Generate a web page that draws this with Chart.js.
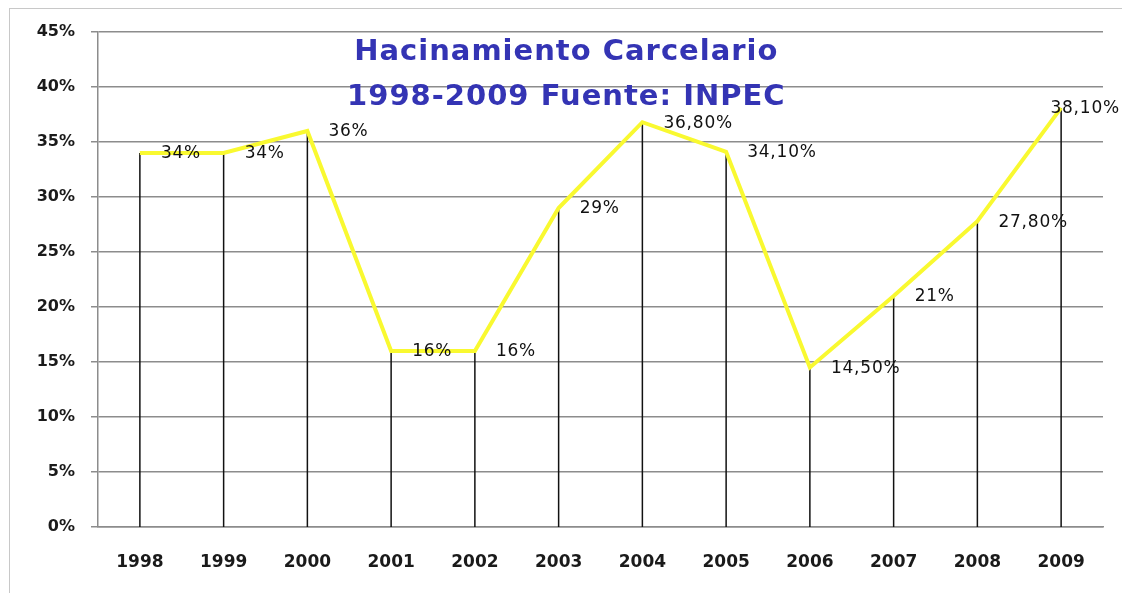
<!DOCTYPE html>
<html>
<head>
<meta charset="utf-8">
<script src="https://cdn.jsdelivr.net/npm/chart.js@4/dist/chart.umd.min.js"></script>
<style>
  html, body { margin: 0; padding: 0; background: #fff; }
  #frame { position: absolute; left: 9px; top: 8px; width: 1130px; height: 600px; border: 1px solid #c8c8c8; }
  #wrap { position: absolute; left: 0; top: 0; width: 1122px; height: 593px; }
</style>
</head>
<body>
<div id="frame"></div>
<div id="wrap"><canvas id="myChart" width="1122" height="593"></canvas></div>
<script>
var years = ['1998', '1999', '2000', '2001', '2002', '2003', '2004', '2005', '2006', '2007', '2008', '2009'];
var hacinamiento = [34, 34, 36, 16, 16, 29, 36.8, 34.1, 14.5, 21, 27.8, 38.1];
var etiquetas = ['34%', '34%', '36%', '16%', '16%', '29%', '36,80%', '34,10%', '14,50%', '21%', '27,80%', '38,10%'];
var titulo = ['Hacinamiento Carcelario', '1998-2009 Fuente: INPEC'];

// drop lines from each point down to the axis + value labels
var dropLines = {
    id: 'dropLines',
    beforeDatasetsDraw: function(chart) {
        var ctx = chart.ctx;
        var meta = chart.getDatasetMeta(0);
        var bottom = chart.scales.y.getPixelForValue(0);
        ctx.save();
        ctx.strokeStyle = '#111';
        ctx.lineWidth = 1.5;
        meta.data.forEach(function(p) {
            ctx.beginPath();
            ctx.moveTo(p.x, p.y);
            ctx.lineTo(p.x, bottom);
            ctx.stroke();
        });
        ctx.restore();
    },
    afterDatasetsDraw: function(chart) {
        var ctx = chart.ctx;
        var meta = chart.getDatasetMeta(0);
        ctx.save();
        ctx.font = '17px "DejaVu Sans"';
        ctx.letterSpacing = '0.8px';
        ctx.fillStyle = '#111';
        ctx.textBaseline = 'middle';
        ctx.textAlign = 'left';
        meta.data.forEach(function(p, i) {
            var txt = etiquetas[i];
            var w = ctx.measureText(txt).width;
            var x = p.x + 21;
            if (x + w > chart.width - 2) x = chart.width - 2 - w;
            ctx.fillText(txt, x, p.y + 1);
        });
        // title sits inside the plot area
        ctx.letterSpacing = '1px';
        ctx.font = 'bold 29px "DejaVu Sans"';
        ctx.fillStyle = '#3434b4';
        ctx.textAlign = 'center';
        var cx = chart.chartArea.left + (chart.chartArea.right - chart.chartArea.left) * 0.466;
        ctx.fillText(titulo[0], cx, chart.chartArea.top + 20);
        ctx.fillText(titulo[1], cx, chart.chartArea.top + 65);
        ctx.restore();
    }
};

const config = {
    type: 'line',
    data: {
        labels: years,
        datasets: [{
            label: 'Hacinamiento',
            data: hacinamiento,
            borderColor: '#f9f930',
            borderWidth: 4,
            pointRadius: 0,
            tension: 0,
            fill: false
        }]
    },
    options: {
        responsive: false,
        animation: false,
        layout: { padding: { left: 0, right: 19, top: 32, bottom: 0 } },
        plugins: {
            legend: { display: false },
            tooltip: { enabled: false }
        },
        scales: {
            x: {
                offset: true,
                grid: { display: false, drawTicks: false },
                border: { display: true, color: '#8c8c8c', width: 1.5 },
                ticks: {
                    color: '#1a1a1a',
                    padding: 25,
                    maxRotation: 0,
                    font: { family: 'DejaVu Sans', size: 17, weight: 'bold' }
                },
                afterFit: function(scale) { scale.height = 66; }
            },
            y: {
                min: 0,
                max: 45,
                ticks: {
                    stepSize: 5,
                    color: '#1a1a1a',
                    padding: 16,
                    font: { family: 'DejaVu Sans', size: 16, weight: 'bold' },
                    callback: function(v) { return v + '%'; }
                },
                grid: { color: '#8c8c8c', lineWidth: 1.5, tickLength: 7 },
                border: { display: true, color: '#8c8c8c', width: 1.5 },
                afterFit: function(scale) { scale.width = 98; }
            }
        }
    },
    plugins: [dropLines]
};

const myChart = new Chart(document.getElementById('myChart'), config);
</script>
</body>
</html>
